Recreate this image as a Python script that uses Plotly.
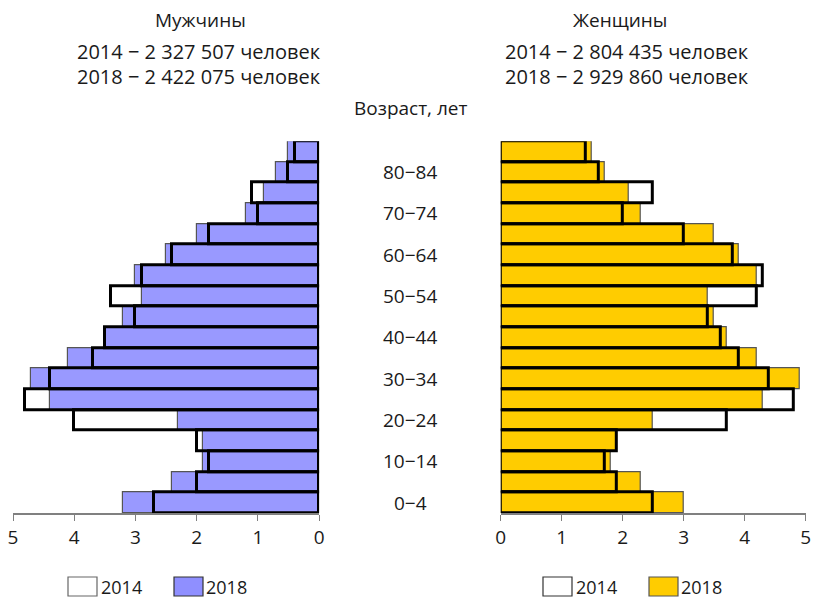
import plotly.graph_objects as go

ages = ["0−4", "5−9", "10−14", "15−19", "20−24", "25−29", "30−34", "35−39", "40−44",
        "45−49", "50−54", "55−59", "60−64", "65−69", "70−74", "75−79", "80−84", "85+"]
age_labels_shown = ["0−4", "10−14", "20−24", "30−34", "40−44", "50−54", "60−64", "70−74", "80−84"]

men_2014 = [2.7, 2.0, 1.8, 2.0, 4.0, 4.8, 4.4, 3.7, 3.5, 3.0, 3.4, 2.9, 2.4, 1.8, 1.0, 1.1, 0.5, 0.4]
men_2018 = [3.2, 2.4, 1.9, 1.9, 2.3, 4.4, 4.7, 4.1, 3.5, 3.2, 2.9, 3.0, 2.5, 2.0, 1.2, 0.9, 0.7, 0.5]
women_2014 = [2.5, 1.9, 1.7, 1.9, 3.7, 4.8, 4.4, 3.9, 3.6, 3.4, 4.2, 4.3, 3.8, 3.0, 2.0, 2.5, 1.6, 1.4]
women_2018 = [3.0, 2.3, 1.8, 1.9, 2.5, 4.3, 4.9, 4.2, 3.7, 3.5, 3.4, 4.2, 3.9, 3.5, 2.3, 2.1, 1.7, 1.5]

x_ticks = [0, 1, 2, 3, 4, 5]

men_title = "Мужчины"
men_lines = ["2014 − 2 327 507 человек", "2018 − 2 422 075 человек"]
women_title = "Женщины"
women_lines = ["2014 − 2 804 435 человек", "2018 − 2 929 860 человек"]
age_axis_title = "Возраст, лет"
legend_years = ["2014", "2018"]

FONT = "Open Sans"
FS = 19
FT = 20
TXT = "#1a1a1a"
PURPLE = "#9999FF"
YELLOW = "#FFCC00"

fig = go.Figure()

fig.add_trace(go.Bar(y=ages, x=men_2018, orientation="h", xaxis="x", yaxis="y",
                     marker=dict(color=PURPLE, line=dict(color="#555555", width=1.2)),
                     showlegend=False, name="2018"))
fig.add_trace(go.Bar(y=ages, x=men_2014, orientation="h", xaxis="x", yaxis="y",
                     marker=dict(color="rgba(0,0,0,0)", line=dict(color="black", width=3)),
                     showlegend=False, name="2014"))
fig.add_trace(go.Bar(y=ages, x=women_2018, orientation="h", xaxis="x2", yaxis="y2",
                     marker=dict(color=YELLOW, line=dict(color="#555555", width=1.2)),
                     showlegend=False, name="2018"))
fig.add_trace(go.Bar(y=ages, x=women_2014, orientation="h", xaxis="x2", yaxis="y2",
                     marker=dict(color="rgba(0,0,0,0)", line=dict(color="black", width=3)),
                     showlegend=False, name="2014"))

axis_common = dict(tickvals=x_ticks, ticks="outside", ticklen=6, tickcolor="#808080",
                   showline=True, linecolor="#808080", linewidth=1.5, showgrid=False,
                   zeroline=False, automargin=False,
                   tickfont=dict(family=FONT, size=FS, color=TXT))
ydom = [0.142, 0.764]
ycommon = dict(domain=ydom, categoryorder="array", categoryarray=ages, showticklabels=False,
               showgrid=False, zeroline=False, showline=False, ticks="", automargin=False,
               range=[-0.5, 17.5])
fig.update_layout(
    width=813, height=598, margin=dict(l=0, r=0, t=0, b=0, autoexpand=False),
    paper_bgcolor="white", plot_bgcolor="white",
    barmode="overlay", bargap=0,
    font=dict(family=FONT, size=FS, color=TXT),
    xaxis=dict(domain=[0.016, 0.3925], range=[5, 0], anchor="y", **axis_common),
    xaxis2=dict(domain=[0.616, 0.991], range=[0, 5], anchor="y2", **axis_common),
    yaxis=dict(anchor="x", **ycommon),
    yaxis2=dict(anchor="x2", **ycommon),
)

ann = []
def txt(x, y, s, size, xanchor="center"):
    ann.append(dict(x=x, y=y, xref="paper", yref="paper", text=s, showarrow=False,
                    xanchor=xanchor, yanchor="middle",
                    font=dict(family=FONT, size=size, color=TXT)))

txt(200 / 813, 1 - 20 / 598, men_title, FS)
txt(199 / 813, 1 - 52 / 598, men_lines[0], FT)
txt(199 / 813, 1 - 76 / 598, men_lines[1], FT)
txt(620 / 813, 1 - 20 / 598, women_title, FS)
txt(627 / 813, 1 - 52 / 598, women_lines[0], FT)
txt(627 / 813, 1 - 76 / 598, women_lines[1], FT)
txt(411 / 813, 1 - 108 / 598, age_axis_title, FS)

for lab in age_labels_shown:
    ann.append(dict(x=410 / 813, y=lab, xref="paper", yref="y", text=lab, showarrow=False,
                    xanchor="center", yanchor="middle",
                    font=dict(family=FONT, size=FS, color=TXT)))

# legends (swatches + text)
shapes = []
def swatch(x0, color, border):
    shapes.append(dict(type="rect", xref="paper", yref="paper",
                       x0=x0 / 813, x1=(x0 + 29) / 813, y0=1 - 596 / 598, y1=1 - 577 / 598,
                       fillcolor=color, line=dict(color=border, width=1.2)))

swatch(68, "white", "#666666"); swatch(174, "#8F8FFF", "#333333")
swatch(543, "white", "#333333"); swatch(649, YELLOW, "#555555")
for x0, s in [(99, legend_years[0]), (204, legend_years[1]), (574, legend_years[0]), (679, legend_years[1])]:
    ann.append(dict(x=x0 / 813, y=1 - 587 / 598, xref="paper", yref="paper", text=s,
                    showarrow=False, xanchor="left", yanchor="middle",
                    font=dict(family=FONT, size=FS - 1, color=TXT)))

fig.update_layout(annotations=ann, shapes=shapes)
fig.write_html("out.html", config={"displayModeBar": False},
               post_script="document.body.style.margin='0';document.body.style.overflow='hidden';")
